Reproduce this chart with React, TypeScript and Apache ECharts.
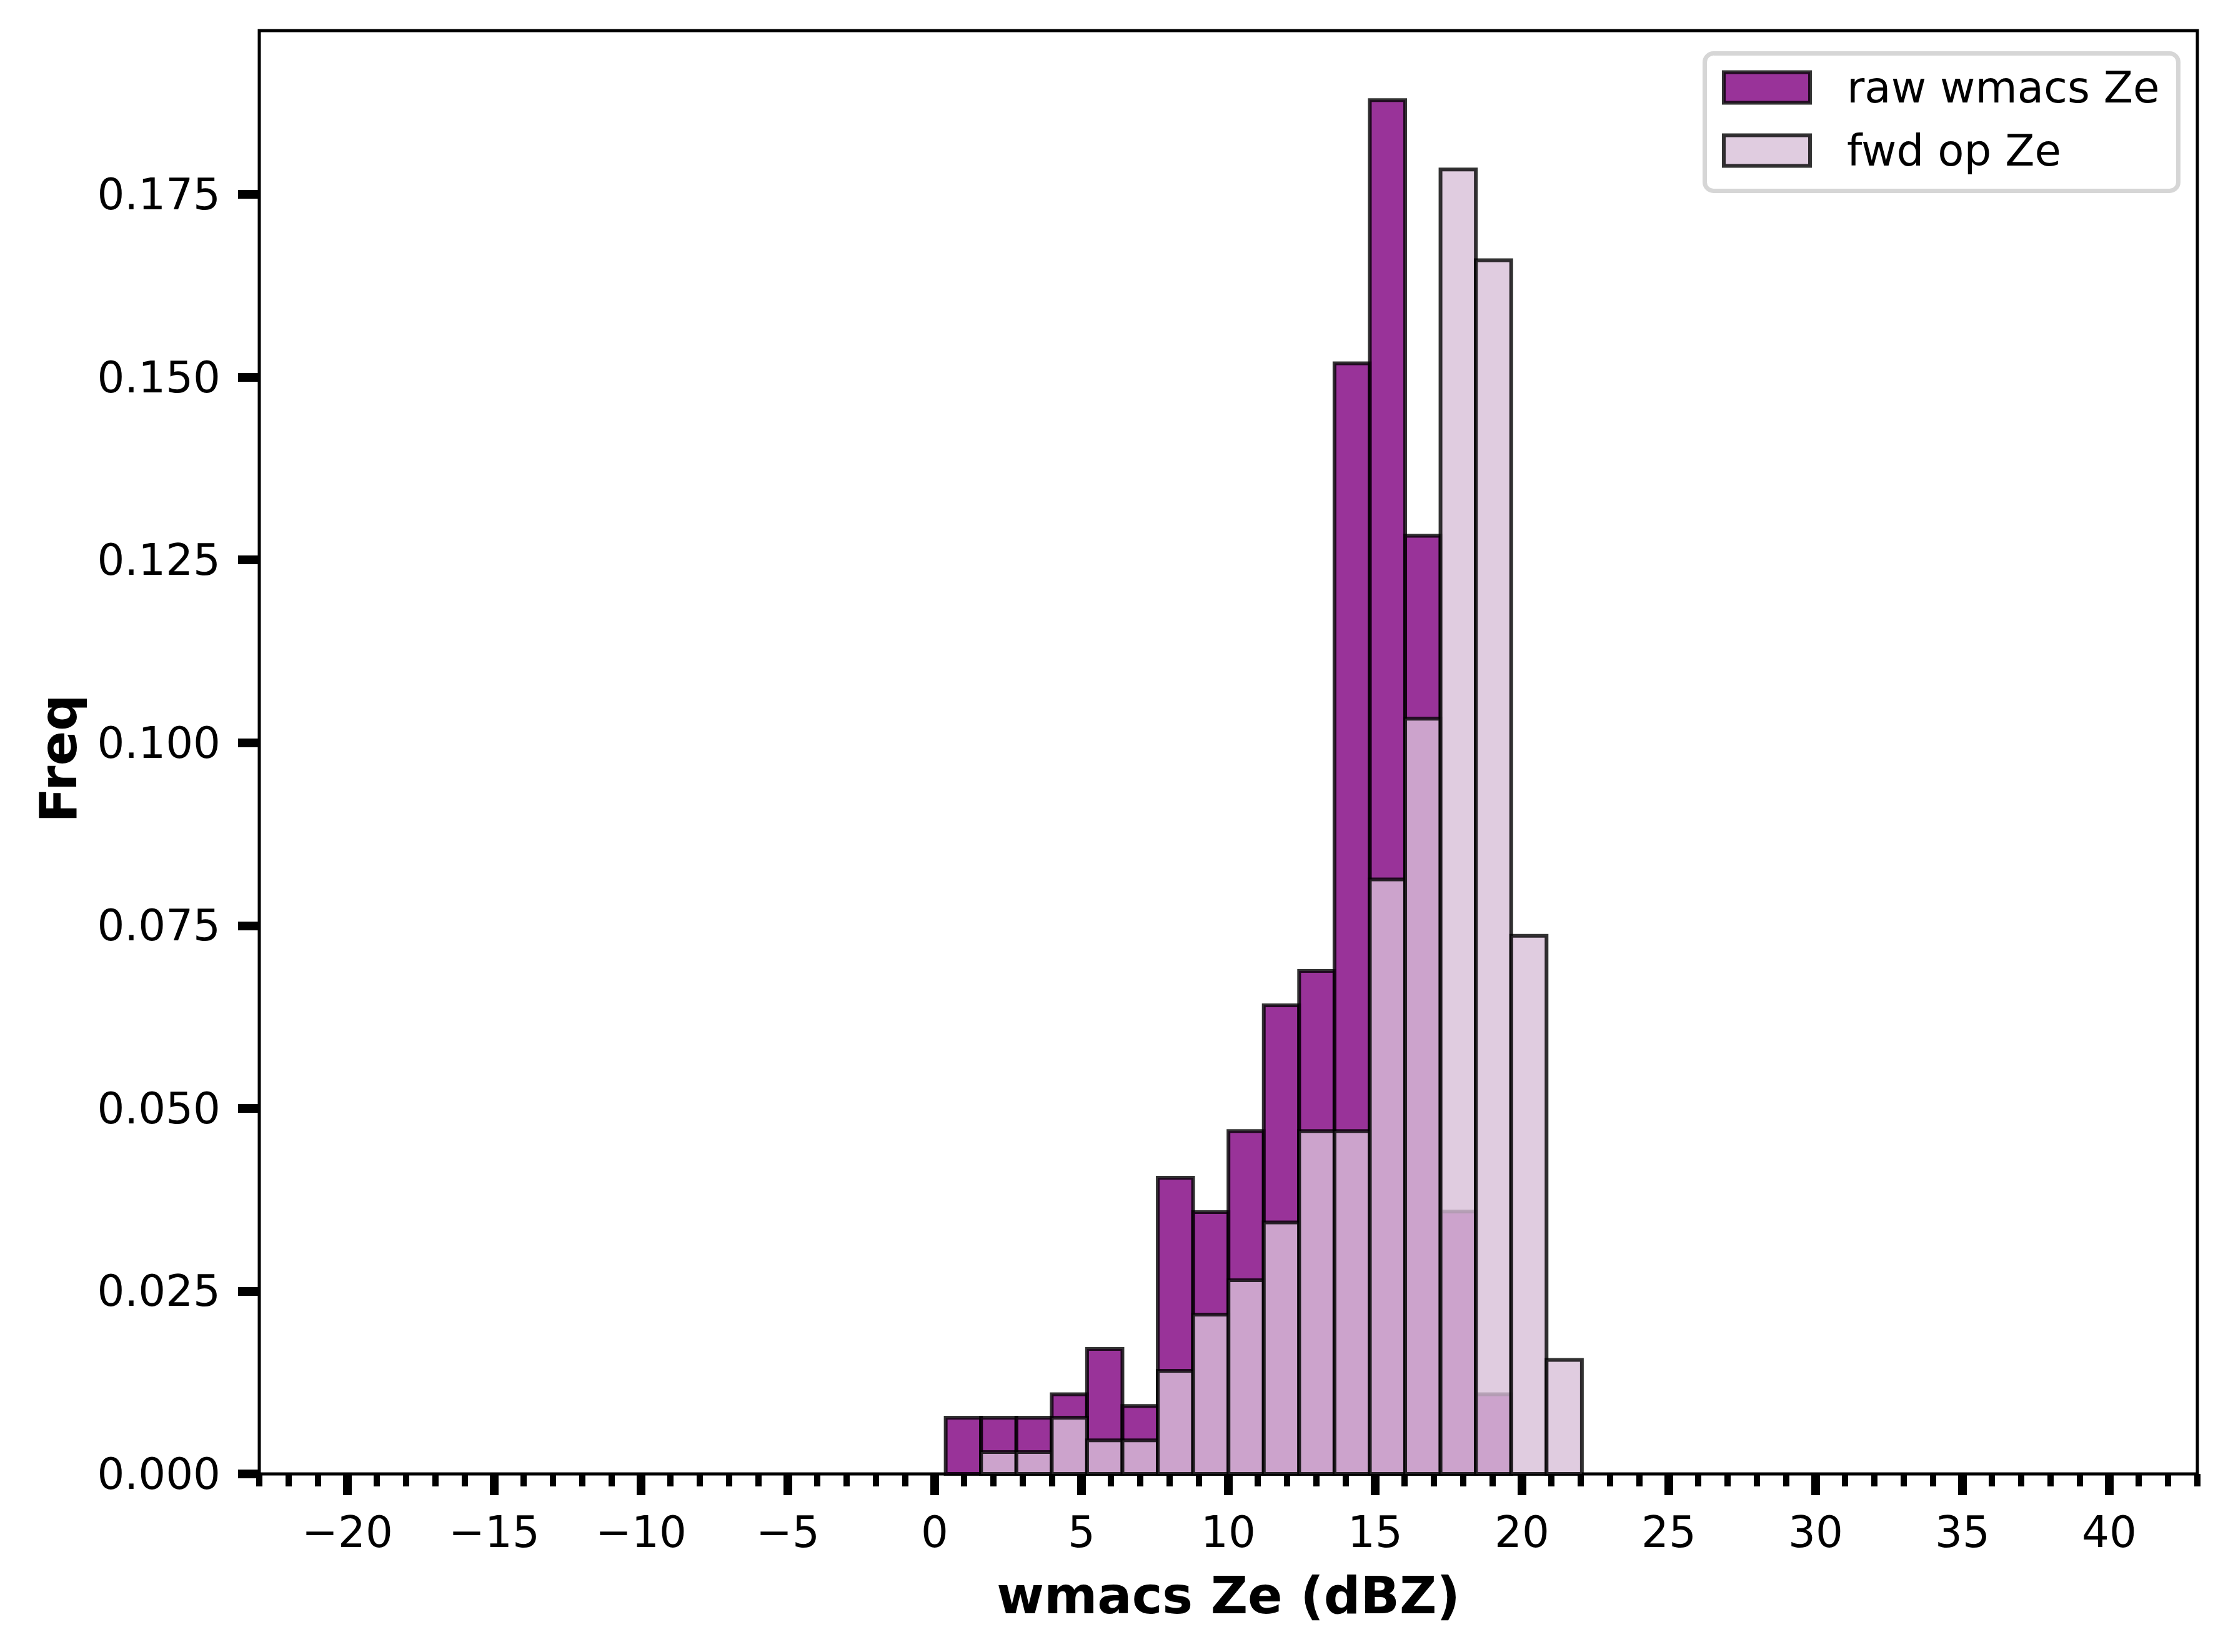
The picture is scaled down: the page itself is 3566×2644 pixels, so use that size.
import React, { useEffect, useRef } from "react";
import * as echarts from "echarts";

// ---- data ----
const binEdges = [
  0.375, 1.579, 2.782, 3.986, 5.189, 6.393, 7.597, 8.8, 10.004, 11.207,
  12.411, 13.615, 14.818, 16.022, 17.225, 18.429, 19.633, 20.836, 22.04,
];
const rawFreq = [
  0.0077, 0.0077, 0.0077, 0.0109, 0.0171, 0.0093, 0.0405, 0.0358, 0.0469,
  0.0641, 0.0688, 0.1519, 0.1879, 0.1283, 0.0359, 0.0109, 0, 0,
];
const fwdFreq = [
  0, 0.003, 0.003, 0.0077, 0.0046, 0.0046, 0.0141, 0.0218, 0.0265, 0.0344,
  0.0469, 0.0469, 0.0813, 0.1033, 0.1784, 0.166, 0.0736, 0.0156,
];
const seriesNames = ["raw wmacs Ze", "fwd op Ze"];
const xMajorTicks = [-20, -15, -10, -5, 0, 5, 10, 15, 20, 25, 30, 35, 40];
const yTicks = [0, 0.025, 0.05, 0.075, 0.1, 0.125, 0.15, 0.175];
const xMin = -23;
const xMax = 43;
const yMax = 0.1974;
const xTitle = "wmacs Ze (dBZ)";
const yTitle = "Freq";

const FONT = "DejaVu Sans";
const RAW_FILL = "rgba(128,0,128,0.8)";
const FWD_FILL = "rgba(216,191,216,0.8)";
const EDGE = "rgba(0,0,0,0.8)";

const xMinorTicks: number[] = [];
for (let v = xMin; v <= xMax; v++) xMinorTicks.push(v);

const toBins = (vals: number[]) =>
  vals.map((v, i) => [binEdges[i], binEdges[i + 1], v]);

const makeRender = (fill: string) => (params: any, api: any) => {
  const x0 = api.value(0);
  const x1 = api.value(1);
  const v = api.value(2);
  if (!v) return null;
  const p0 = api.coord([x0, v]);
  const p1 = api.coord([x1, 0]);
  return {
    type: "rect",
    shape: { x: p0[0], y: p0[1], width: p1[0] - p0[0], height: p1[1] - p0[1] },
    style: { fill, stroke: EDGE, lineWidth: 6 },
  };
};

export default function App() {
  const ref = useRef<HTMLDivElement>(null);
  useEffect(() => {
    if (!ref.current) return;
    const chart = echarts.init(ref.current, null, { renderer: "svg" });
    const option: any = {
      animation: false,
      backgroundColor: "#ffffff",
      textStyle: { fontFamily: FONT },
      grid: {
        left: 415,
        top: 49,
        width: 3102,
        height: 2310,
        show: true,
        borderColor: "#000",
        borderWidth: 5,
        backgroundColor: "transparent",
        containLabel: false,
      },
      legend: {
        show: true,
        selectedMode: false,
        orient: "vertical",
        left: 2728.5,
        top: 85.5,
        padding: [20, 30, 30, 27.5],
        itemWidth: 138,
        itemHeight: 49,
        itemGap: 32,
        backgroundColor: "#fff",
        borderColor: "rgba(204,204,204,0.8)",
        borderWidth: 7,
        borderRadius: 14,
        textStyle: {
          fontFamily: FONT,
          fontSize: 69,
          color: "#000",
          padding: [0, 0, 0, 54],
        },
        data: [
          {
            name: seriesNames[0],
            icon: "rect",
            itemStyle: { color: RAW_FILL, borderColor: EDGE, borderWidth: 6 },
          },
          {
            name: seriesNames[1],
            icon: "rect",
            itemStyle: { color: FWD_FILL, borderColor: EDGE, borderWidth: 6 },
          },
        ],
      },
      xAxis: [
        {
          type: "value",
          min: xMin,
          max: xMax,
          position: "bottom",
          name: xTitle,
          nameLocation: "middle",
          nameGap: 153,
          nameTextStyle: {
            fontFamily: FONT,
            fontSize: 82,
            fontWeight: "bold",
            color: "#000",
          },
          axisLine: { show: false, onZero: false },
          splitLine: { show: false },
          axisTick: {
            show: true,
            customValues: xMajorTicks,
            length: 34,
            lineStyle: { color: "#000", width: 14 },
          },
          axisLabel: {
            show: true,
            customValues: xMajorTicks,
            margin: 58,
            fontFamily: FONT,
            fontSize: 69,
            color: "#000",
            formatter: (v: number) => String(v).replace("-", "\u2212"),
          },
        },
        {
          type: "value",
          min: xMin,
          max: xMax,
          position: "bottom",
          axisLine: { show: false, onZero: false },
          splitLine: { show: false },
          axisLabel: { show: false },
          axisTick: {
            show: true,
            customValues: xMinorTicks,
            length: 20,
            lineStyle: { color: "#000", width: 10 },
          },
        },
      ],
      yAxis: {
        type: "value",
        min: 0,
        max: yMax,
        position: "left",
        name: yTitle,
        nameLocation: "middle",
        nameGap: 281,
        nameTextStyle: {
          fontFamily: FONT,
          fontSize: 82,
          fontWeight: "bold",
          color: "#000",
          padding: [0, 20, 0, 0],
        },
        axisLine: { show: false, onZero: false },
        splitLine: { show: false },
        axisTick: {
          show: true,
          customValues: yTicks,
          length: 34,
          lineStyle: { color: "#000", width: 14 },
        },
        axisLabel: {
          show: true,
          customValues: yTicks,
          margin: 62,
          fontFamily: FONT,
          fontSize: 69,
          color: "#000",
          formatter: (v: number) => v.toFixed(3),
        },
      },
      series: [
        {
          name: seriesNames[0],
          type: "custom",
          xAxisIndex: 0,
          yAxisIndex: 0,
          silent: true,
          itemStyle: { color: RAW_FILL, borderColor: EDGE, borderWidth: 6 },
          renderItem: makeRender(RAW_FILL),
          encode: { x: [0, 1], y: 2 },
          data: toBins(rawFreq),
        },
        {
          name: seriesNames[1],
          type: "custom",
          xAxisIndex: 0,
          yAxisIndex: 0,
          silent: true,
          itemStyle: { color: FWD_FILL, borderColor: EDGE, borderWidth: 6 },
          renderItem: makeRender(FWD_FILL),
          encode: { x: [0, 1], y: 2 },
          data: toBins(fwdFreq),
        },
      ],
    };
    chart.setOption(option);
    return () => chart.dispose();
  }, []);
  return (
    <div
      ref={ref}
      style={{
        position: "fixed",
        left: 0,
        top: 0,
        width: 3566,
        height: 2644,
        background: "#fff",
      }}
    />
  );
}
